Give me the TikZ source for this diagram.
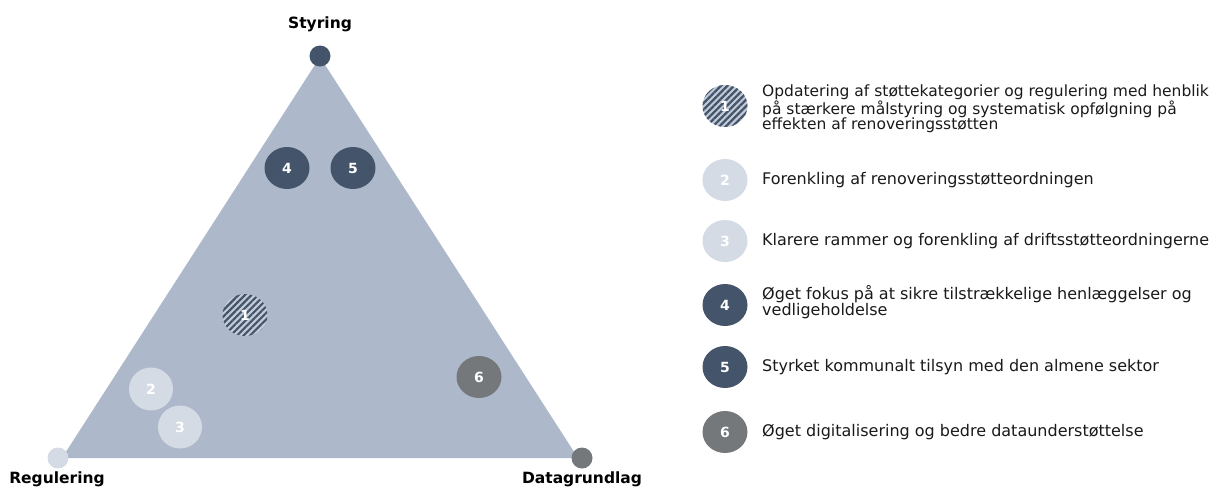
\documentclass[tikz,border=0pt]{standalone}
\usepackage{fontspec}
\setmainfont{DejaVu Sans}
\usetikzlibrary{patterns.meta,shapes.geometric}
\definecolor{tri}{HTML}{ADB9CA}
\definecolor{navy}{HTML}{44546A}
\definecolor{lightc}{HTML}{D5DBE5}
\definecolor{grayc}{HTML}{75787B}
\definecolor{txt}{HTML}{1A1A1A}
\definecolor{hatchbg}{HTML}{C3CBD8}
\tikzset{
  num/.style={ellipse,minimum width=45pt,minimum height=42pt,inner sep=0pt,text=white,font=\fontsize{14}{16}\selectfont\bfseries},
  navyc/.style={num,fill=navy},
  lightcirc/.style={num,fill=lightc},
  grayc/.style={num,fill=grayc},
  hatchc/.style={num,pattern={Lines[angle=45,distance=4.6pt,line width=2.2pt]},pattern color=navy,preaction={fill=hatchbg}},
  corner/.style={circle,minimum size=21pt,inner sep=0pt},
  axis/.style={font=\fontsize{15.5}{17}\selectfont\bfseries,text=black},
  legtext/.style={anchor=west,align=left,text=txt,font=\fontsize{16}{15.5}\selectfont,inner sep=0pt}
}
\begin{document}
\begin{tikzpicture}[x=1pt,y=-1pt]
\path[use as bounding box,fill=white] (0,0) rectangle (1216,488);
\coordinate (A) at (320,57);
\coordinate (B) at (62,458);
\coordinate (C) at (578,458);
\fill[tri] (A) -- (B) -- (C) -- cycle;
\node[corner,fill=navy] (top) at (320,56) {};
\node[corner,fill=lightc] (left) at (58,458) {};
\node[corner,fill=grayc] (right) at (582,458) {};
\node[axis] (lblS) at (320,24) {Styring};
\node[axis] (lblR) at (57,479) {Regulering};
\node[axis] (lblD) at (582,479) {Datagrundlag};
% circles in triangle
\node[navyc] (t4) at (287,168) {4};
\node[navyc] (t5) at (353,168) {5};
\node[hatchc] (t1) at (245,315) {1};
\node[lightcirc,minimum width=44pt,minimum height=43pt] (t2) at (151,389) {2};
\node[lightcirc,minimum width=44pt,minimum height=43pt] (t3) at (180,427) {3};
\node[grayc] (t6) at (479,377) {6};
% legend
\node[hatchc] (l1) at (725,106) {1};
\node[lightcirc] (l2) at (725,180) {2};
\node[lightcirc] (l3) at (725,241) {3};
\node[navyc] (l4) at (725,305) {4};
\node[navyc] (l5) at (725,367) {5};
\node[grayc] (l6) at (725,432) {6};
\node[legtext,font=\fontsize{15.5}{15.5}\selectfont] (d1) at (762,109) {Opdatering af støttekategorier og regulering med henblik\\på stærkere målstyring og systematisk opfølgning på\\effekten af renoveringsstøtten};
\node[legtext] (d2) at (762,180) {Forenkling af renoveringsstøtteordningen};
\node[legtext] (d3) at (762,241) {Klarere rammer og forenkling af driftsstøtteordningerne};
\node[legtext] (d4) at (762,302) {Øget fokus på at sikre tilstrækkelige henlæggelser og\\vedligeholdelse};
\node[legtext] (d5) at (762,367) {Styrket kommunalt tilsyn med den almene sektor};
\node[legtext] (d6) at (762,432) {Øget digitalisering og bedre dataunderstøttelse};
\end{tikzpicture}
\end{document}
